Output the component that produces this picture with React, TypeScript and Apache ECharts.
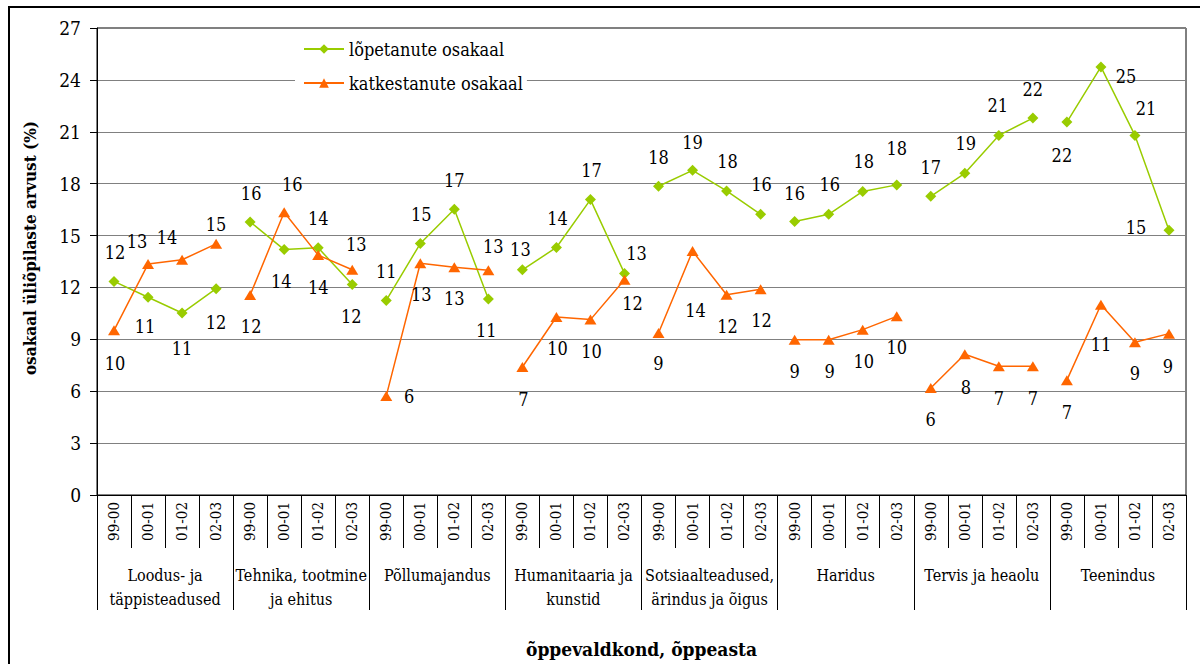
import React, { useEffect, useRef } from 'react';
import * as echarts from 'echarts';

const FONT = 'DejaVu Serif Condensed, DejaVu Serif';

const years = ['99-00', '00-01', '01-02', '02-03'];
const groups = [
  'Loodus- ja\ntäppisteadused',
  'Tehnika, tootmine\nja ehitus',
  'Põllumajandus',
  'Humanitaaria ja\nkunstid',
  'Sotsiaalteadused,\närindus ja õigus',
  'Haridus',
  'Tervis ja heaolu',
  'Teenindus',
];
const categories = groups.flatMap(() => years);

const graduatedName = 'lõpetanute osakaal';
const droppedName = 'katkestanute osakaal';

const graduated = [
  12.35, 11.43, 10.52, 11.93,
  15.79, 14.19, 14.29, 12.17,
  11.25, 14.54, 16.52, 11.33,
  13.02, 14.31, 17.08, 12.81,
  17.85, 18.77, 17.58, 16.23,
  15.81, 16.23, 17.55, 17.93,
  17.27, 18.6, 20.79, 21.79,
  21.56, 24.75, 20.79, 15.31,
];
const dropped = [
  9.52, 13.35, 13.6, 14.52,
  11.56, 16.35, 13.87, 13.02,
  5.73, 13.4, 13.17, 13.0,
  7.4, 10.29, 10.14, 12.45,
  9.37, 14.1, 11.58, 11.9,
  8.98, 8.98, 9.56, 10.33,
  6.19, 8.14, 7.44, 7.44,
  6.64, 11.0, 8.83, 9.33,
];

// label placement offsets (label centre relative to the point), in px
const graduatedLabelOffsets: [number, number][] = [
  [1, -29], [-3, 29], [0, 35], [0, 34],
  [1, -28], [-3, 32], [0, -29], [-1, 32],
  [0, -29], [1, -29], [0, -29], [-2, 31],
  [-2, -20], [1, -29], [1, -29], [12, -20],
  [0, -29], [0, -28], [1, -29], [1, -30],
  [0, -28], [1, -30], [1, -30], [0, -36],
  [0, -29], [1, -30], [-1, -30], [0, -29],
  [-5, 33], [25, 10], [11, -27], [-33, -3],
];
const droppedLabelOffsets: [number, number][] = [
  [1, 33], [-11, -23], [-15, -22], [0, -19],
  [1, 31], [8, -28], [0, 32], [4, -25],
  [23, 1], [1, 31], [0, 31], [5, -24],
  [1, 32], [1, 31], [1, 32], [8, 24],
  [0, 31], [3, 59], [1, 32], [1, 31],
  [0, 32], [1, 32], [1, 32], [0, 31],
  [0, 32], [1, 33], [0, 32], [0, 32],
  [0, 32], [0, 40], [0, 31], [-1, 33],
];

const GREEN = '#99CC00';
const ORANGE = '#FF6600';

function makeSeries(
  name: string,
  values: number[],
  offsets: [number, number][],
  color: string,
  symbol: string,
  symbolSize: number[]
) {
  return groups.map((_, g) => ({
    type: 'line',
    name,
    xAxisIndex: 0,
    yAxisIndex: 0,
    symbol,
    symbolSize,
    itemStyle: { color },
    lineStyle: { color, width: 1.5 },
    connectNulls: false,
    z: 3,
    label: {
      show: true,
      position: 'inside',
      align: 'center',
      verticalAlign: 'middle',
      fontSize: 18,
      fontFamily: FONT,
      color: '#000',
      formatter: (p: any) => String(Math.round(p.value)),
    },
    data: values.map((v, i) =>
      Math.floor(i / 4) === g ? { value: v, label: { offset: offsets[i] } } : null
    ),
  }));
}

export default function App() {
  const ref = useRef<HTMLDivElement>(null);

  useEffect(() => {
    if (!ref.current) return;
    const chart = echarts.init(ref.current, undefined, { renderer: 'svg' });
    const option: any = {
      animation: false,
      backgroundColor: '#fff',
      textStyle: { fontFamily: FONT },
      grid: {
        left: 97,
        right: 14,
        top: 28,
        height: 467,
        show: true,
        borderColor: '#000',
        borderWidth: 1,
        backgroundColor: 'transparent',
      },
      legend: {
        data: [graduatedName, droppedName],
        orient: 'vertical',
        left: 295,
        top: 30,
        padding: [8, 4, 8, 8],
        backgroundColor: '#fff',
        itemWidth: 40,
        itemHeight: 12,
        itemGap: 12,
        textStyle: { fontSize: 18, fontFamily: FONT, color: '#000', lineHeight: 22 },
      },
      xAxis: [
        {
          type: 'category',
          data: categories,
          position: 'bottom',
          boundaryGap: true,
          axisLine: { show: true, lineStyle: { color: '#000', width: 1 } },
          axisTick: { show: true, interval: 0, length: 53, lineStyle: { color: '#000' } },
          axisLabel: {
            interval: 0,
            rotate: 90,
            margin: 7,
            fontSize: 15,
            fontFamily: FONT,
            color: '#000',
          },
          splitLine: { show: false },
        },
        {
          type: 'category',
          data: groups,
          position: 'bottom',
          boundaryGap: true,
          axisLine: { show: false },
          axisTick: { show: true, interval: 0, length: 115, lineStyle: { color: '#000' } },
          axisLabel: {
            interval: 0,
            margin: 68,
            lineHeight: 24,
            fontSize: 16,
            fontFamily: FONT,
            color: '#000',
          },
          splitLine: { show: false },
          name: 'õppevaldkond, õppeasta',
          nameLocation: 'middle',
          nameGap: 144,
          nameTextStyle: { fontSize: 19, fontWeight: 'bold', fontFamily: FONT, color: '#000' },
        },
      ],
      yAxis: {
        type: 'value',
        min: 0,
        max: 27,
        interval: 3,
        axisLine: { show: true, lineStyle: { color: '#000' } },
        axisTick: { show: true, length: 7, lineStyle: { color: '#000' } },
        axisLabel: { fontSize: 19, fontFamily: FONT, color: '#000', margin: 16 },
        splitLine: { show: true, lineStyle: { color: '#808080', width: 1 } },
      },
      graphic: [
        {
          type: 'rect',
          shape: { x: 9, y: 7, width: 1250, height: 720 },
          style: { fill: 'none', stroke: '#000', lineWidth: 2 },
          silent: true,
        },
        {
          type: 'text',
          x: 30,
          y: 248,
          rotation: Math.PI / 2,
          style: {
            text: 'osakaal üliõpilaste arvust (%)',
            align: 'center',
            verticalAlign: 'middle',
            fontSize: 17,
            fontWeight: 'bold',
            fontFamily: FONT,
            fill: '#000',
          },
        },
      ],
      series: [
        ...makeSeries(graduatedName, graduated, graduatedLabelOffsets, GREEN, 'diamond', [11, 11]),
        ...makeSeries(droppedName, dropped, droppedLabelOffsets, ORANGE, 'triangle', [12, 10]),
      ],
    };
    chart.setOption(option);
    return () => chart.dispose();
  }, []);

  return (
    <div
      ref={ref}
      style={{ position: 'absolute', left: 0, top: 0, width: 1200, height: 664 }}
    />
  );
}
